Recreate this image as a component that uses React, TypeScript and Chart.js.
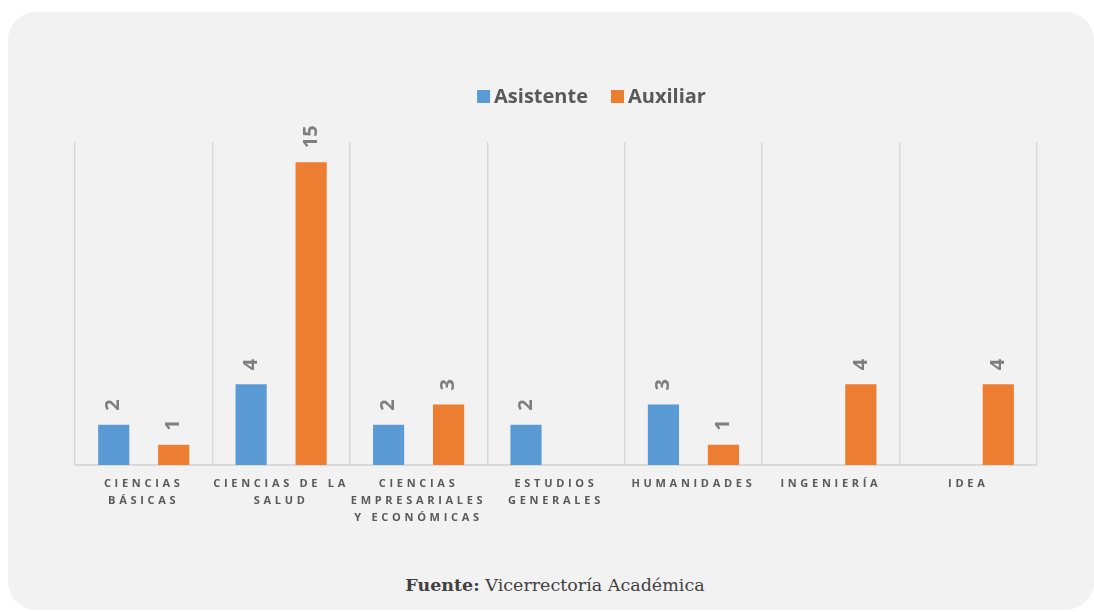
import React, { useEffect, useRef } from 'react';
import { Chart, registerables } from 'chart.js';

Chart.register(...registerables);

// ---- data ----
const categories: string[][] = [
  ['CIENCIAS', 'BÁSICAS'],
  ['CIENCIAS DE LA', 'SALUD'],
  ['CIENCIAS', 'EMPRESARIALES', 'Y ECONÓMICAS'],
  ['ESTUDIOS', 'GENERALES'],
  ['HUMANIDADES'],
  ['INGENIERÍA'],
  ['IDEA'],
];
const seriesNames = ['Asistente', 'Auxiliar'];
const asistente: (number | null)[] = [2, 4, 2, 2, 3, null, null];
const auxiliar: (number | null)[] = [1, 15, 3, null, 1, 4, 4];
const yMax = 16;
const sourceLabel = 'Fuente:';
const sourceText = 'Vicerrectoría Académica';

const BLUE = '#5B9BD5';
const ORANGE = '#ED7D31';
const CANVAS_W = 1086;
const CANVAS_H = 560;
const LEGEND_CX = 583.5;
const LEGEND_CY = 85;

const customPlugin = {
  id: 'customLabels',
  afterDatasetsDraw(chart: any) {
    const ctx = chart.ctx as CanvasRenderingContext2D;
    ctx.save();
    ctx.font = 'bold 20px "Open Sans"';
    ctx.fillStyle = '#7f7f7f';
    ctx.textAlign = 'left';
    ctx.textBaseline = 'middle';
    chart.data.datasets.forEach((ds: any, di: number) => {
      const meta = chart.getDatasetMeta(di);
      meta.data.forEach((el: any, i: number) => {
        const v = ds.data[i];
        if (v === null || v === undefined) return;
        ctx.save();
        ctx.translate(el.x, el.y - 14);
        ctx.rotate(-Math.PI / 2);
        ctx.fillText(String(v), 0, 0);
        ctx.restore();
      });
    });
    ctx.restore();
  },
  afterDraw(chart: any) {
    const ctx = chart.ctx as CanvasRenderingContext2D;
    // legend
    ctx.save();
    ctx.font = 'bold 20px "Open Sans"';
    ctx.textBaseline = 'middle';
    ctx.textAlign = 'left';
    const box = 13;
    const gap = 4;
    const itemGap = 23;
    const items = chart.data.datasets.map((ds: any) => ({
      label: ds.label as string,
      color: ds.backgroundColor as string,
      w: ctx.measureText(ds.label).width,
    }));
    const total =
      items.reduce((a: number, it: any) => a + box + gap + it.w, 0) + itemGap * (items.length - 1);
    let x = LEGEND_CX - total / 2;
    items.forEach((it: any) => {
      ctx.fillStyle = it.color;
      ctx.fillRect(x, LEGEND_CY - 7, box, box);
      ctx.fillStyle = '#595959';
      ctx.fillText(it.label, x + box + gap, LEGEND_CY);
      x += box + gap + it.w + itemGap;
    });
    ctx.restore();

    // category labels
    const xs = chart.scales.x;
    const base = chart.chartArea.bottom;
    const spacing = 3.7;
    ctx.save();
    ctx.font = 'bold 11px "Open Sans"';
    ctx.fillStyle = '#595959';
    ctx.textAlign = 'center';
    ctx.textBaseline = 'middle';
    (ctx as any).letterSpacing = spacing + 'px';
    categories.forEach((lines, i) => {
      const cx = xs.getPixelForValue(i);
      lines.forEach((ln, j) => ctx.fillText(ln, cx, base + 19 + j * 17));
    });
    ctx.restore();
  },
};

export default function App() {
  const ref = useRef<HTMLCanvasElement>(null);
  useEffect(() => {
    Chart.defaults.font.family = '"Open Sans", sans-serif';
    const chart = new Chart(ref.current!, {
      type: 'bar',
      data: {
        labels: categories,
        datasets: [
          {
            label: seriesNames[0],
            data: asistente,
            backgroundColor: BLUE,
            borderWidth: 0,
            categoryPercentage: 0.873,
            barPercentage: 0.52,
          },
          {
            label: seriesNames[1],
            data: auxiliar,
            backgroundColor: ORANGE,
            borderWidth: 0,
            categoryPercentage: 0.873,
            barPercentage: 0.52,
          },
        ],
      },
      options: {
        responsive: false,
        animation: false,
        layout: { padding: { left: 67, right: 57, top: 130, bottom: 0 } },
        plugins: {
          legend: { display: false },
          tooltip: { enabled: false },
        },
        scales: {
          x: {
            offset: true,
            grid: {
              display: true,
              offset: true,
              color: '#d9d9d9',
              lineWidth: 1.5,
              drawTicks: false,
            },
            border: { display: true, color: '#d9d9d9', width: 2 },
            ticks: { display: false },
            afterFit: (s: any) => {
              s.height = CANVAS_H - 453;
            },
          },
          y: {
            display: false,
            min: 0,
            max: yMax,
          },
        },
      },
      plugins: [customPlugin],
    } as any);
    return () => chart.destroy();
  }, []);

  return (
    <div
      style={{
        position: 'absolute',
        left: 8,
        top: 12,
        width: 1086,
        height: 598,
        background: '#f2f2f2',
        borderRadius: 28,
        overflow: 'hidden',
      }}
    >
      <canvas
        ref={ref}
        width={CANVAS_W}
        height={CANVAS_H}
        style={{ position: 'absolute', left: 0, top: 0, display: 'block' }}
      />
      <div
        style={{
          position: 'absolute',
          left: 0,
          top: 563,
          width: 1094,
          textAlign: 'center',
          fontFamily: '"DejaVu Serif", serif',
          fontSize: 17.5,
          lineHeight: '20px',
          color: '#404040',
        }}
      >
        <b>{sourceLabel}</b> {sourceText}
      </div>
    </div>
  );
}
